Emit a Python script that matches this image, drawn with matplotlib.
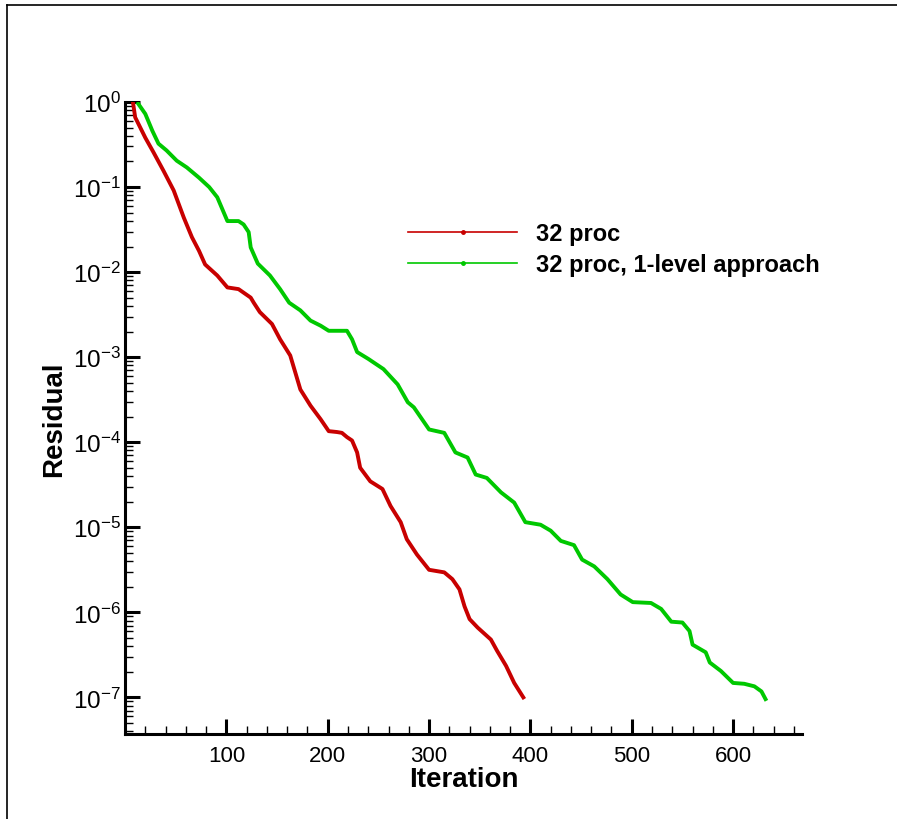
import numpy as np
import matplotlib.pyplot as plt
from matplotlib.lines import Line2D
from matplotlib.ticker import LogLocator, MultipleLocator, FixedLocator, FuncFormatter

plt.rcParams['font.family'] = ['Liberation Sans', 'DejaVu Sans']
plt.rcParams['mathtext.fontset'] = 'custom'
plt.rcParams['mathtext.rm'] = 'Liberation Sans'
plt.rcParams['mathtext.it'] = 'Liberation Sans'
plt.rcParams['mathtext.bf'] = 'Liberation Sans:bold'

# residual history (iteration, log10 residual)
it_32 = [8, 10, 20, 28, 38, 48, 58, 66, 73, 79, 91, 101, 112, 124, 127, 133, 145,
         153, 163, 173, 183, 193, 201, 209, 214, 219, 224, 229, 232, 242, 254, 262,
         272, 278, 288, 300, 315, 323, 330, 335, 340, 348, 361, 367, 376, 384, 393]
log_res_32 = [-0.02, -0.18, -0.42, -0.59, -0.81, -1.04, -1.36, -1.59, -1.75, -1.91,
              -2.04, -2.18, -2.20, -2.30, -2.36, -2.47, -2.61, -2.79, -2.98, -3.38,
              -3.57, -3.73, -3.87, -3.88, -3.89, -3.94, -3.98, -4.12, -4.30, -4.46,
              -4.55, -4.75, -4.94, -5.14, -5.32, -5.50, -5.53, -5.61, -5.73, -5.93,
              -6.08, -6.18, -6.32, -6.45, -6.63, -6.83, -7.00]

it_1lvl = [13, 20, 27, 33, 41, 51, 61, 73, 83, 91, 96, 101, 112, 117, 122, 124, 131,
           143, 153, 162, 173, 183, 193, 201, 219, 224, 229, 240, 255, 269, 279, 285,
           300, 315, 326, 338, 346, 357, 371, 384, 395, 410, 420, 430, 443, 451, 463,
           476, 489, 501, 519, 529, 539, 550, 557, 560, 573, 577, 588, 600, 611, 621,
           628, 632]
log_res_1lvl = [-0.02, -0.14, -0.34, -0.49, -0.57, -0.69, -0.77, -0.89, -1.00, -1.12,
                -1.26, -1.40, -1.40, -1.44, -1.53, -1.71, -1.90, -2.04, -2.20, -2.36,
                -2.45, -2.57, -2.63, -2.69, -2.69, -2.79, -2.94, -3.02, -3.14, -3.32,
                -3.53, -3.59, -3.85, -3.89, -4.12, -4.18, -4.38, -4.42, -4.59, -4.71,
                -4.94, -4.97, -5.04, -5.16, -5.21, -5.38, -5.46, -5.61, -5.79, -5.88,
                -5.89, -5.96, -6.11, -6.12, -6.22, -6.38, -6.47, -6.59, -6.69, -6.83,
                -6.84, -6.87, -6.93, -7.02]

labels = ["32 proc", "32 proc, 1-level approach"]
colors = ['#c80000', '#00c800']

fig = plt.figure(figsize=(8.97, 8.2), dpi=100)
ax = fig.add_axes([0.1394, 0.1037, 0.7547, 0.7707])

ax.plot(it_32, 10 ** np.array(log_res_32), color=colors[0], lw=2.8)
ax.plot(it_1lvl, 10 ** np.array(log_res_1lvl), color=colors[1], lw=2.8)

ax.set_yscale('log')
ax.set_xlim(0, 668)
ax.set_ylim(10 ** -7.43, 1)

ax.xaxis.set_major_locator(FixedLocator([100, 200, 300, 400, 500, 600]))
ax.xaxis.set_minor_locator(MultipleLocator(20))
ax.yaxis.set_major_locator(LogLocator(base=10, numticks=20))
ax.yaxis.set_minor_locator(LogLocator(base=10, subs=np.arange(2, 10), numticks=20))
ax.yaxis.set_major_formatter(FuncFormatter(lambda v, p: r'$10^{%d}$' % round(np.log10(v))))

for s in ['top', 'right']:
    ax.spines[s].set_visible(False)
for s in ['left', 'bottom']:
    ax.spines[s].set_linewidth(2.2)

ax.tick_params(which='major', direction='in', length=11, width=2.2, labelsize=16)
ax.tick_params(which='minor', direction='in', length=5.5, width=1.0)
ax.tick_params(axis='y', which='major', pad=3, labelsize=17.5)
ax.tick_params(axis='x', which='major', pad=8)

ax.set_xlabel("Iteration", fontsize=20, fontweight='bold', labelpad=0)
ax.set_ylabel("Residual", fontsize=20, fontweight='bold', labelpad=4)

handles = [Line2D([], [], color=c, lw=1.2, marker='o', markersize=2.5) for c in colors]
ax.legend(handles, labels, loc='upper left', bbox_to_anchor=(0.387, 0.843),
          frameon=False, handlelength=4.6, handletextpad=0.8,
          labelspacing=0.33, prop={'weight': 'bold', 'size': 17})

# page frame: only top and left edges are drawn dark
fig.add_artist(Line2D([7 / 897, 1], [1 - 6 / 820, 1 - 6 / 820], color='black', lw=1.2))
fig.add_artist(Line2D([7 / 897, 7 / 897], [0, 1 - 6 / 820], color='black', lw=1.2))

fig.savefig('out.png', dpi=100)
